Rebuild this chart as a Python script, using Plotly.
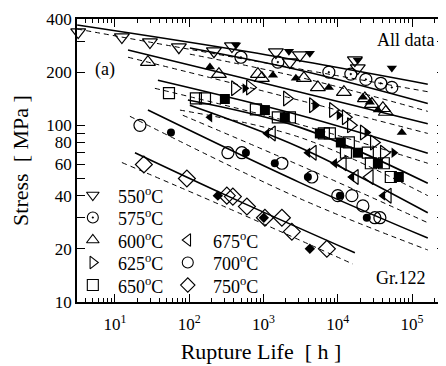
import plotly.graph_objects as go

# ---------------- data (rupture life [h], stress [MPa]) ----------------
temps = ["550", "575", "600", "625", "650", "675", "700", "750"]

t550_open = [3.2, 12.4, 29.6, 72.6, 215, 376, 1470, 2265, 3090, 17000, 18600]
s550_open = [337, 316, 296, 277, 263, 281, 260, 228, 250, 234, 211]
t550_fill = [427, 2200, 4200, 18600, 53500]
s550_fill = [285, 263, 256, 234, 211]

t575_open = [497, 1563, 7590, 15000, 23900, 38000, 53500]
s575_open = [243, 228, 200, 195, 182, 173, 164]

t600_open = [27.8, 251, 841, 951, 3500, 5400, 12100, 23200, 28800, 40500, 44400]
s600_open = [228, 195, 195, 185, 185, 164, 154, 142, 132, 125, 119]
t600_fill = [190, 1340, 2730, 7590, 21800, 27000, 34700, 72900]
s600_fill = [214, 192, 185, 164, 144, 135, 122, 91]

t625_open = [412, 656, 2065, 4620, 8600, 12800, 15000, 22400, 30600, 41700]
s625_open = [162, 164, 142, 130, 122, 111, 100, 91, 80, 70]
t625_fill = [562, 4900, 10400, 24600, 56900]
s625_fill = [162, 130, 114, 91, 70]

t650_open = [53.4, 123, 163, 790, 1560, 2270, 6500, 7830, 14100, 12900, 25400, 27900, 41700, 51800]
s650_open = [152, 142, 142, 123, 111, 111, 90, 90, 80, 70, 70, 61, 61, 51]
t650_fill = [302, 1045, 1940, 5740, 11000, 18600, 34700, 66400]
s650_fill = [141, 122, 111, 90, 80, 70, 61, 51]

t675_open = [1300, 4620, 11700, 17000, 27000, 47200]
s675_open = [90, 70, 61, 51, 51, 40]
t675_fill = [190, 1110, 3960, 9100, 15500, 40500]
s675_fill = [111, 90, 70, 61, 51, 40]

t700_open = [21.7, 332, 511, 1770, 4470, 10000, 15500, 21800, 31600, 36900]
s700_open = [100, 70, 70, 61, 51, 40, 40, 35, 30, 30]
t700_fill = [56.8, 580, 1420, 3960, 10700, 24600]
s700_fill = [91, 70, 61, 51, 40, 30]

t750_open = [24.5, 93, 321, 387, 598, 1045, 1770, 2410, 7130]
s750_open = [60, 50, 40, 39.5, 34.7, 30, 30, 25, 20]
t750_fill = [243, 1010, 4210]
s750_fill = [40, 30, 20]

# fitted curves: (life, stress) points, solid = mean, dashed = lower
curve_t = {
    "550": [3.1, 656, 163000], "575": [102, 3090, 163000], "600": [15, 481, 163000],
    "625": [37.9, 3090, 163000], "650": [96, 3090, 163000], "675": [102, 3090, 163000],
    "700": [27.8, 3090, 163000], "750": [18.6, 321, 17000],
}
curve_s = {
    "550": [370, 260, 171], "575": [274, 205, 133], "600": [267, 187, 102],
    "625": [180, 114, 69.5], "650": [139, 97.4, 47], "675": [130, 75, 32],
    "700": [122, 47.4, 23], "750": [70, 40, 19],
}
lower_t = {
    "550": [3.1, 656, 163000], "575": [102, 3090, 163000], "600": [15, 481, 163000],
    "625": [34.5, 3090, 163000], "650": [75, 3090, 163000], "675": [82, 3090, 163000],
    "700": [15.9, 3090, 163000], "750": [12.4, 321, 16000],
}
lower_s = {
    "550": [351, 234, 155], "575": [253, 187, 120], "600": [243, 169, 90],
    "625": [162, 101, 61], "650": [122, 85.5, 40], "675": [114, 59.3, 28.1],
    "700": [112.5, 38.5, 19.7], "750": [61.6, 34.2, 16.4],
}

y_tickvals = [10, 20, 30, 40, 50, 60, 70, 80, 90, 100, 200, 300, 400]
y_ticktext = ["10", "20", "", "40", "", "60", "", "80", "", "100", "200", "", "400"]
x_tickvals = [10, 100, 1000, 10000, 100000]
x_ticktext = ["10<sup>1</sup>", "10<sup>2</sup>", "10<sup>3</sup>", "10<sup>4</sup>", "10<sup>5</sup>"]
x_minor = [m * 10 ** e for e in range(0, 6) for m in range(2, 10)]

FONT = "Liberation Serif"
fig = go.Figure()

for T in temps:
    fig.add_trace(go.Scatter(x=curve_t[T], y=curve_s[T], mode="lines", line_shape="spline",
                             line=dict(color="black", width=1.6), showlegend=False, hoverinfo="skip"))
    fig.add_trace(go.Scatter(x=lower_t[T], y=lower_s[T], mode="lines", line_shape="spline",
                             line=dict(color="black", width=1, dash="5px,4px"), showlegend=False, hoverinfo="skip"))

open_sets = [
    (t550_open, s550_open, "triangle-down-open", 13),
    (t575_open, s575_open, "circle-open-dot", 12),
    (t600_open, s600_open, "triangle-up-open", 13),
    (t625_open, s625_open, "triangle-right-open", 13),
    (t650_open, s650_open, "square-open", 11),
    (t675_open, s675_open, "triangle-left-open", 13),
    (t700_open, s700_open, "circle-open", 12),
    (t750_open, s750_open, "diamond-open", 13),
]
fill_sets = [
    (t550_fill, s550_fill, "triangle-down", 9),
    (t600_fill, s600_fill, "triangle-up", 9),
    (t625_fill, s625_fill, "triangle-right", 9),
    (t650_fill, s650_fill, "square", 10),
    (t675_fill, s675_fill, "triangle-left", 9),
    (t700_fill, s700_fill, "circle", 8),
    (t750_fill, s750_fill, "diamond", 8),
]
for tx, sy, sym, sz in open_sets:
    fig.add_trace(go.Scatter(x=tx, y=sy, mode="markers", cliponaxis=False, showlegend=False,
                             marker=dict(symbol=sym, size=sz, color="black", line=dict(color="black", width=1.2))))
for tx, sy, sym, sz in fill_sets:
    fig.add_trace(go.Scatter(x=tx, y=sy, mode="markers", cliponaxis=False, showlegend=False,
                             marker=dict(symbol=sym, size=sz, color="black", line=dict(width=0))))

# legend drawn on an overlay axis (plot-fraction units)
leg_col = [0, 0, 0, 0, 0, 1, 1, 1]
leg_row = [0, 1, 2, 3, 4, 2, 3, 4]
leg_sym = ["triangle-down-open", "circle-open-dot", "triangle-up-open", "triangle-right-open",
           "square-open", "triangle-left-open", "circle-open", "diamond-open"]
for T, c, r, sym in zip(temps, leg_col, leg_row, leg_sym):
    fig.add_trace(go.Scatter(x=[0.043 + c * 0.258], y=[0.378 - r * 0.0795], xaxis="x2", yaxis="y2",
                             mode="markers", showlegend=False, cliponaxis=False,
                             marker=dict(symbol=sym, size=11, color="black", line=dict(color="black", width=1.1))))
    fig.add_annotation(x=0.105 + c * 0.258, y=0.378 - r * 0.0795, xref="x2", yref="y2",
                       text=T + "<sup>o</sup>C", showarrow=False, xanchor="left", yanchor="middle",
                       font=dict(family=FONT, size=18, color="black"))

fig.add_annotation(x=0.043, y=0.82, xref="paper", yref="paper", text="(a)", showarrow=False,
                   xanchor="left", yanchor="middle", font=dict(family=FONT, size=18, color="black"))
fig.add_annotation(x=0.975, y=0.925, xref="paper", yref="paper", text="All data", showarrow=False,
                   xanchor="right", yanchor="middle", font=dict(family=FONT, size=18, color="black"))
fig.add_annotation(x=0.955, y=0.085, xref="paper", yref="paper", text="Gr.122", showarrow=False,
                   xanchor="right", yanchor="middle", font=dict(family=FONT, size=18, color="black"))

axis_common = dict(showline=True, linecolor="black", linewidth=1.5, mirror="allticks", ticks="inside",
                   tickcolor="black", showgrid=False, zeroline=False, automargin=False)
# the page body has an 8px default margin, so the figure is sized/offset to compensate
fig.update_layout(
    width=438, height=358, margin=dict(l=69, r=1, t=11, b=64),
    plot_bgcolor="white", paper_bgcolor="white", showlegend=False,
    font=dict(family=FONT, color="black"),
    xaxis=dict(type="log", range=[0.489, 5.444], tickvals=x_tickvals, ticktext=x_ticktext,
               ticklen=8, tickwidth=1, tickfont=dict(size=17), ticklabelstandoff=6,
               minor=dict(tickvals=x_minor, ticks="inside", ticklen=4, tickcolor="black", showgrid=False),
               title=dict(text="Rupture Life\u00a0\u00a0[ h ]", font=dict(size=22), standoff=10), **axis_common),
    yaxis=dict(type="log", range=[1, 2.602], tickvals=y_tickvals, ticktext=y_ticktext,
               ticklen=8, tickwidth=1, tickfont=dict(size=17), ticklabelstandoff=0,
               title=dict(text="Stress\u00a0\u00a0[ MPa ]", font=dict(size=22), standoff=13), **axis_common),
    xaxis2=dict(overlaying="x", range=[0, 1], visible=False),
    yaxis2=dict(overlaying="y", range=[0, 1], visible=False),
)

fig.write_html("out.html")
